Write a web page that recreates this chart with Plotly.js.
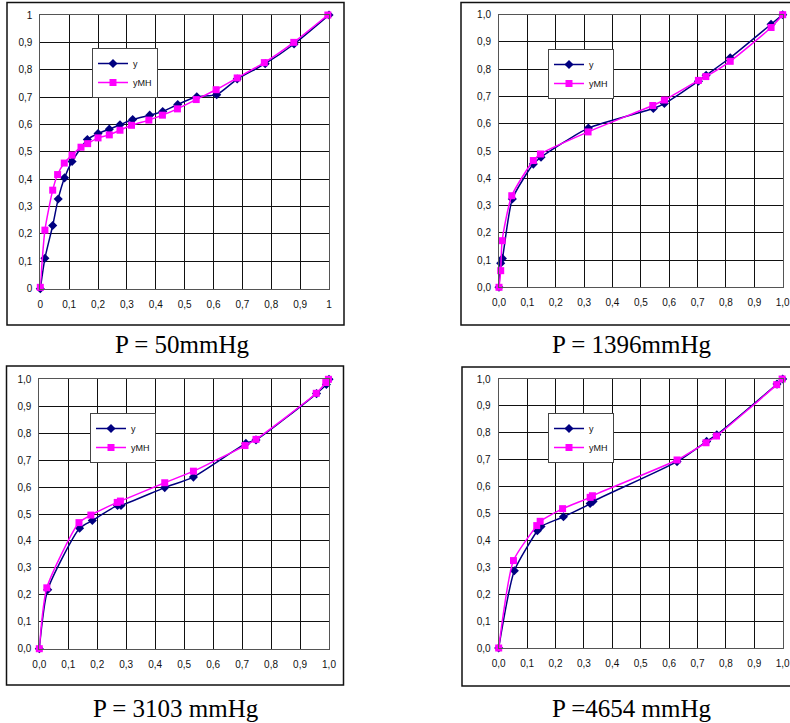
<!DOCTYPE html>
<html><head><meta charset="utf-8">
<script src="https://cdn.plot.ly/plotly-3.0.1.min.js"></script>
<style>html,body{margin:0;padding:0;background:#fff}#c{width:790px;height:723px}</style>
</head><body><div id="c"></div>
<script>
// Panel titles
const captions = ["P = 50mmHg", "P = 1396mmHg", "P = 3103 mmHg", "P =4654 mmHg"];
const seriesNames = ["y", "yMH"];

// P = 50 mmHg
const p1_x_y   = [0,0.016,0.043,0.062,0.084,0.110,0.163,0.200,0.239,0.276,0.320,0.379,0.424,0.476,0.542,0.611,0.682,0.779,0.879,1.0];
const p1_y_y   = [0,0.111,0.231,0.328,0.405,0.465,0.545,0.567,0.583,0.599,0.618,0.634,0.647,0.673,0.701,0.709,0.766,0.822,0.894,1.0];
const p1_x_yMH = [0,0.016,0.043,0.060,0.083,0.110,0.141,0.164,0.200,0.239,0.276,0.316,0.376,0.423,0.475,0.540,0.609,0.682,0.776,0.878,0.996];
const p1_y_yMH = [0.005,0.214,0.360,0.417,0.459,0.488,0.517,0.530,0.551,0.562,0.579,0.597,0.616,0.634,0.657,0.691,0.727,0.770,0.826,0.900,1.0];

// P = 1396 mmHg
const p2_x_y   = [0,0.006,0.012,0.047,0.121,0.148,0.315,0.544,0.583,0.703,0.730,0.815,0.959,1.0];
const p2_y_y   = [0,0.088,0.106,0.324,0.452,0.477,0.584,0.656,0.674,0.756,0.778,0.842,0.965,1.0];
const p2_x_yMH = [0,0.006,0.011,0.045,0.121,0.146,0.314,0.542,0.583,0.703,0.729,0.815,0.959,1.0];
const p2_y_yMH = [0,0.061,0.171,0.336,0.465,0.489,0.570,0.667,0.687,0.759,0.773,0.829,0.953,1.0];

// P = 3103 mmHg
const p3_x_y   = [0,0.029,0.139,0.183,0.270,0.282,0.433,0.532,0.713,0.748,0.957,0.991,1.0];
const p3_y_y   = [0,0.219,0.447,0.476,0.532,0.532,0.598,0.637,0.762,0.775,0.947,0.981,1.0];
const p3_x_yMH = [0,0.026,0.137,0.178,0.269,0.280,0.433,0.532,0.710,0.748,0.956,0.989,0.998];
const p3_y_yMH = [0,0.226,0.468,0.496,0.543,0.548,0.616,0.659,0.754,0.777,0.948,0.988,1.0];

// P = 4654 mmHg
const p4_x_y   = [0,0.055,0.136,0.149,0.228,0.322,0.332,0.628,0.732,0.768,0.980,1.0];
const p4_y_y   = [0,0.287,0.436,0.452,0.488,0.537,0.545,0.693,0.768,0.793,0.981,1.0];
const p4_x_yMH = [0,0.052,0.134,0.146,0.225,0.322,0.330,0.628,0.730,0.767,0.979,0.998];
const p4_y_yMH = [0,0.325,0.455,0.471,0.518,0.560,0.566,0.699,0.763,0.788,0.979,1.0];

const W = 790, H = 723;
const px = v => v / W;
const py = v => 1 - v / H;

const panels = [
  {xs:[p1_x_y,p1_x_yMH], ys:[p1_y_y,p1_y_yMH], plot:[40.3,329,15,288.7], box:[7,344,2.5,325], leg:[92,48], cap:[182,344], fmt:''},
  {xs:[p2_x_y,p2_x_yMH], ys:[p2_y_y,p2_y_yMH], plot:[499,782.7,14.7,287.3], box:[461,795,2.5,325], leg:[548,49], cap:[632,344], fmt:'.1f'},
  {xs:[p3_x_y,p3_x_yMH], ys:[p3_y_y,p3_y_yMH], plot:[39.3,329,379.3,648.7], box:[6.5,343.5,366,685], leg:[90,413], cap:[176,708], fmt:'.1f'},
  {xs:[p4_x_y,p4_x_yMH], ys:[p4_y_y,p4_y_yMH], plot:[498.7,782.7,379,648], box:[462,795,367,686], leg:[548,413], cap:[632,708], fmt:'.1f'}
];

const traces = [];
const layout = {
  width: W, height: H,
  margin: {l:0, r:0, t:0, b:0},
  paper_bgcolor: '#fff', plot_bgcolor: '#fff',
  separators: ', ',
  showlegend: true,
  font: {family: 'Liberation Sans, Arial, sans-serif', size: 10, color: '#111'},
  shapes: [], annotations: []
};

panels.forEach((p, i) => {
  const n = i + 1;
  const xa = 'xaxis' + (n === 1 ? '' : n), ya = 'yaxis' + (n === 1 ? '' : n);
  const xr = 'x' + (n === 1 ? '' : n), yr = 'y' + (n === 1 ? '' : n);
  const lg = 'legend' + (n === 1 ? '' : n);
  const axCommon = {
    range: [0, 1], dtick: 0.1, tick0: 0, showgrid: true, gridcolor: '#111', gridwidth: 1,
    zeroline: false, showline: true, mirror: true, linecolor: '#555', linewidth: 1,
    ticks: '', tickfont: {family: 'Liberation Sans, Arial, sans-serif', size: 10, color: '#111'},
    tickformat: p.fmt, fixedrange: true, ticklabeloverflow: 'allow'
  };
  layout[xa] = Object.assign({}, axCommon, {domain: [px(p.plot[0]), px(p.plot[1])], anchor: yr, ticklabelstandoff: 6});
  layout[ya] = Object.assign({}, axCommon, {domain: [py(p.plot[3]), py(p.plot[2])], anchor: xr, ticklabelstandoff: 5});
  layout[lg] = {
    x: px(p.leg[0]), y: py(p.leg[1]), xanchor: 'left', yanchor: 'top', xref: 'paper', yref: 'paper',
    bgcolor: '#fff', bordercolor: '#444', borderwidth: 1,
    font: {family: 'Liberation Sans, Arial, sans-serif', size: 9, color: '#111'},
    tracegroupgap: 0, itemwidth: 30
  };
  traces.push({
    x: p.xs[0], y: p.ys[0], xaxis: xr, yaxis: yr, legend: lg, name: seriesNames[0],
    type: 'scatter', mode: 'lines+markers', cliponaxis: false,
    line: {color: '#000080', width: 1.5, shape: 'spline', smoothing: 0.6},
    marker: {symbol: 'diamond', size: 7, color: '#000080'}
  });
  traces.push({
    x: p.xs[1], y: p.ys[1], xaxis: xr, yaxis: yr, legend: lg, name: seriesNames[1],
    type: 'scatter', mode: 'lines+markers', cliponaxis: false,
    line: {color: '#FF00FF', width: 1.5, shape: 'spline', smoothing: 0.6},
    marker: {symbol: 'square', size: 7, color: '#FF00FF'}
  });
  layout.shapes.push({
    type: 'rect', xref: 'paper', yref: 'paper', layer: 'below',
    x0: px(p.box[0]), x1: px(p.box[1]), y0: py(p.box[3]), y1: py(p.box[2]),
    line: {color: '#111', width: 1.5}, fillcolor: 'rgba(0,0,0,0)'
  });
  layout.annotations.push({
    text: captions[i], xref: 'paper', yref: 'paper', x: px(p.cap[0]), y: py(p.cap[1]),
    xanchor: 'center', yanchor: 'middle', showarrow: false,
    font: {family: 'Liberation Serif, Times New Roman, serif', size: 25, color: '#000'}
  });
});

Plotly.newPlot('c', traces, layout, {displayModeBar: false, staticPlot: true});
</script></body></html>
